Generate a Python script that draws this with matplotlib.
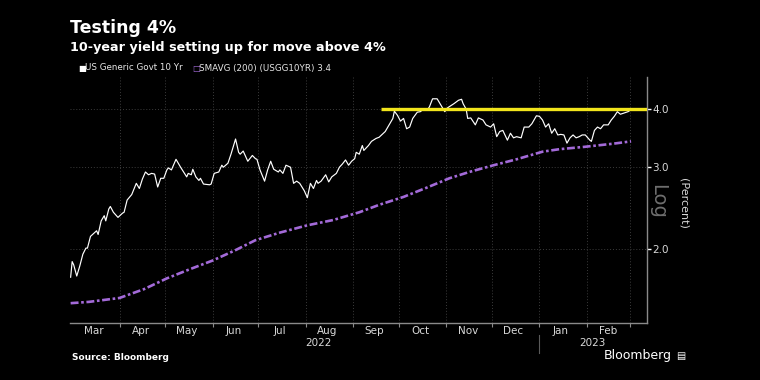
import matplotlib
matplotlib.use("Agg")
import matplotlib.pyplot as plt
import matplotlib.dates as mdates
import matplotlib.transforms as mtransforms
import pandas as pd

# ---- data ----
yield_dates = [
    "2022-02-28", "2022-03-01", "2022-03-02", "2022-03-04", "2022-03-06", "2022-03-08",
    "2022-03-10", "2022-03-11", "2022-03-13", "2022-03-15", "2022-03-17", "2022-03-18",
    "2022-03-20", "2022-03-22", "2022-03-23", "2022-03-25", "2022-03-26", "2022-03-28",
    "2022-03-31", "2022-04-03", "2022-04-04", "2022-04-06", "2022-04-09", "2022-04-12",
    "2022-04-14", "2022-04-16", "2022-04-18", "2022-04-20", "2022-04-22", "2022-04-24",
    "2022-04-26", "2022-04-28", "2022-04-30", "2022-05-02", "2022-05-03", "2022-05-05",
    "2022-05-08", "2022-05-11", "2022-05-15", "2022-05-16", "2022-05-18", "2022-05-19",
    "2022-05-21", "2022-05-23", "2022-05-24", "2022-05-26", "2022-05-30", "2022-05-31",
    "2022-06-02", "2022-06-05", "2022-06-07", "2022-06-08", "2022-06-11", "2022-06-13",
    "2022-06-16", "2022-06-18", "2022-06-19", "2022-06-21", "2022-06-24", "2022-06-27",
    "2022-06-29", "2022-06-30", "2022-07-02", "2022-07-05", "2022-07-07", "2022-07-09",
    "2022-07-11", "2022-07-14", "2022-07-15", "2022-07-17", "2022-07-19", "2022-07-22",
    "2022-07-24", "2022-07-26", "2022-07-28", "2022-07-31", "2022-08-02", "2022-08-04",
    "2022-08-06", "2022-08-08", "2022-08-09", "2022-08-11", "2022-08-14", "2022-08-16",
    "2022-08-18", "2022-08-21", "2022-08-23", "2022-08-25", "2022-08-27", "2022-08-29",
    "2022-08-31", "2022-09-02", "2022-09-03", "2022-09-05", "2022-09-07", "2022-09-08",
    "2022-09-11", "2022-09-13", "2022-09-16", "2022-09-18", "2022-09-20", "2022-09-22",
    "2022-09-25", "2022-09-27", "2022-09-28", "2022-09-30", "2022-10-02", "2022-10-04",
    "2022-10-06", "2022-10-08", "2022-10-10", "2022-10-13", "2022-10-15", "2022-10-17",
    "2022-10-20", "2022-10-21", "2022-10-23", "2022-10-26", "2022-10-29", "2022-10-31",
    "2022-11-02", "2022-11-06", "2022-11-09", "2022-11-11", "2022-11-12", "2022-11-14",
    "2022-11-15", "2022-11-17", "2022-11-20", "2022-11-22", "2022-11-25", "2022-11-27",
    "2022-11-30", "2022-12-02", "2022-12-04", "2022-12-06", "2022-12-08", "2022-12-11",
    "2022-12-13", "2022-12-15", "2022-12-17", "2022-12-20", "2022-12-22", "2022-12-25",
    "2022-12-27", "2022-12-30", "2023-01-01", "2023-01-03", "2023-01-05", "2023-01-07",
    "2023-01-09", "2023-01-11", "2023-01-13", "2023-01-15", "2023-01-17", "2023-01-19",
    "2023-01-21", "2023-01-23", "2023-01-25", "2023-01-27", "2023-01-29", "2023-01-31",
    "2023-02-03", "2023-02-04", "2023-02-06", "2023-02-08", "2023-02-10", "2023-02-12",
    "2023-02-15", "2023-02-17", "2023-02-19", "2023-02-21", "2023-02-23", "2023-02-25",
    "2023-02-28", "2023-03-02",
]
yield_values = [
    1.74, 1.88, 1.85, 1.75, 1.84, 1.95,
    2.01, 2.01, 2.13, 2.16, 2.19, 2.15,
    2.30, 2.36, 2.30, 2.44, 2.47, 2.40,
    2.34, 2.39, 2.40, 2.55, 2.62, 2.77,
    2.70, 2.83, 2.93, 2.89, 2.91, 2.90,
    2.72, 2.84, 2.84, 2.96, 2.99, 2.96,
    3.12, 3.00, 2.86, 2.91, 2.89, 2.97,
    2.86, 2.81, 2.84, 2.76, 2.75, 2.76,
    2.91, 2.93, 3.03, 3.00, 3.06, 3.20,
    3.45, 3.23, 3.20, 3.25, 3.09, 3.18,
    3.13, 3.12, 2.96, 2.80, 2.96, 3.09,
    2.97, 2.93, 2.96, 2.91, 3.03, 3.00,
    2.77, 2.80, 2.77, 2.67, 2.58, 2.77,
    2.70, 2.81, 2.77, 2.80, 2.89, 2.79,
    2.86, 2.91, 3.00, 3.05, 3.11, 3.03,
    3.09, 3.13, 3.23, 3.20, 3.34, 3.26,
    3.34, 3.41, 3.46, 3.48, 3.53, 3.58,
    3.72, 3.82, 3.96, 3.88, 3.77, 3.82,
    3.63, 3.66, 3.82, 3.94, 3.95, 4.00,
    4.00, 4.05, 4.21, 4.21, 4.05, 3.95,
    4.03, 4.11, 4.18, 4.20, 4.11, 4.00,
    3.82, 3.83, 3.70, 3.83, 3.79, 3.70,
    3.66, 3.72, 3.49, 3.58, 3.60, 3.43,
    3.55, 3.47, 3.49, 3.47, 3.66, 3.66,
    3.72, 3.87, 3.86, 3.79, 3.66, 3.72,
    3.55, 3.63, 3.52, 3.53, 3.52, 3.38,
    3.47, 3.52, 3.47, 3.49, 3.52, 3.52,
    3.43, 3.41, 3.60, 3.66, 3.63, 3.70,
    3.70, 3.79, 3.86, 3.95, 3.90, 3.92,
    3.95, 3.99,
]

sma_dates = [
    "2022-02-28", "2022-03-12", "2022-04-01", "2022-04-17", "2022-05-02", "2022-05-17",
    "2022-06-01", "2022-06-16", "2022-06-29", "2022-07-15", "2022-08-02", "2022-08-19",
    "2022-09-05", "2022-09-18", "2022-10-04", "2022-10-19", "2022-11-03", "2022-11-16",
    "2022-12-02", "2022-12-17", "2023-01-03", "2023-01-14", "2023-01-31", "2023-02-18",
    "2023-03-02",
]
sma_values = [
    1.53, 1.54, 1.57, 1.64, 1.73, 1.81,
    1.89, 1.99, 2.09, 2.17, 2.25, 2.31,
    2.40, 2.49, 2.59, 2.71, 2.84, 2.93,
    3.03, 3.12, 3.24, 3.28, 3.32, 3.37,
    3.41,
]

threshold_value = 4.0
threshold_start = "2022-09-19"

month_labels = ["Mar", "Apr", "May", "Jun", "Jul", "Aug", "Sep", "Oct", "Nov", "Dec", "Jan", "Feb"]
year_labels = ["2022", "2023"]
ytick_values = [2.0, 3.0, 4.0]
ytick_labels = ["2.0", "3.0", "4.0"]

title = "Testing 4%"
subtitle = "10-year yield setting up for move above 4%"
legend_labels = ["US Generic Govt 10 Yr", "SMAVG (200) (USGG10YR) 3.4"]

# ---- style ----
BG = "#000000"
FG = "#d9d9d9"
GRID = "#3c3c3c"
PURPLE = "#a36ad8"
YELLOW = "#f2e51c"
NARROW = ["Liberation Sans Narrow", "DejaVu Sans"]

plt.rcParams["font.family"] = ["DejaVu Sans"]

fig = plt.figure(figsize=(7.6, 3.8), dpi=100, facecolor=BG)
ax = fig.add_axes([70 / 760, 1 - 323 / 380, (647 - 70) / 760, (323 - 77) / 380])
ax.set_facecolor(BG)

yd = pd.to_datetime(yield_dates)
sd = pd.to_datetime(sma_dates)
xmin = pd.Timestamp("2022-02-27 14:00")
xmax = pd.Timestamp("2023-03-12 10:00")

ax.set_yscale("log")
ax.set_ylim(1.387, 4.69)
ax.set_xlim(xmin, xmax)

ax.plot(sd, sma_values, color=PURPLE, lw=1.9, linestyle=(0, (3.0, 1.0, 1.0, 1.0)),
        solid_capstyle="butt", zorder=3)
ax.plot(yd, yield_values, color="white", lw=0.85, zorder=4)
ax.hlines(threshold_value, pd.Timestamp(threshold_start), xmax, color=YELLOW, lw=2.4, zorder=5)

# grid
month_starts = pd.date_range("2022-04-01", "2023-03-01", freq="MS")
for d in month_starts:
    ax.axvline(d, color=GRID, lw=0.7, ls=(0, (1, 2)), zorder=1)
for v in ytick_values:
    ax.axhline(v, color=GRID, lw=0.7, ls=(0, (1, 2)), zorder=1)

# spines
for s in ["top", "left"]:
    ax.spines[s].set_visible(False)
for s in ["bottom", "right"]:
    ax.spines[s].set_color("#8a8a8a")
    ax.spines[s].set_linewidth(1.0)

# y axis on the right
ax.yaxis.tick_right()
ax.yaxis.set_major_locator(matplotlib.ticker.FixedLocator(ytick_values))
ax.yaxis.set_major_formatter(matplotlib.ticker.FixedFormatter(ytick_labels))
ax.yaxis.set_minor_locator(matplotlib.ticker.NullLocator())
ax.tick_params(axis="y", which="major", length=3, width=1, color="white",
               labelcolor=FG, labelsize=7.5, pad=1)

# x axis: ticks at month starts, labels at mid-month
ax.xaxis.set_major_locator(matplotlib.ticker.FixedLocator(mdates.date2num(month_starts)))
ax.xaxis.set_major_formatter(matplotlib.ticker.NullFormatter())
label_pos = pd.date_range("2022-03-01", "2023-02-01", freq="MS") + pd.Timedelta(days=14)
label_pos = label_pos.insert(0, pd.Timestamp("2022-03-14"))[1:]
ax.xaxis.set_minor_locator(matplotlib.ticker.FixedLocator(mdates.date2num(label_pos)))
ax.xaxis.set_minor_formatter(matplotlib.ticker.FixedFormatter(month_labels))
ax.tick_params(axis="x", which="major", length=3, color="#8a8a8a", width=0.8)
ax.tick_params(axis="x", which="minor", length=0, labelcolor=FG, labelsize=7.5, pad=2)
for lbl in ax.xaxis.get_minorticklabels():
    lbl.set_family(NARROW)

# year labels
trans = mtransforms.blended_transform_factory(ax.transData, fig.transFigure)
ax.text(pd.Timestamp("2022-08-09"), 1 - 343 / 380, year_labels[0], transform=trans,
        ha="center", va="center", color=FG, fontsize=7.5, family=NARROW)
ax.text(pd.Timestamp("2023-02-05"), 1 - 343 / 380, year_labels[1], transform=trans,
        ha="center", va="center", color=FG, fontsize=7.5, family=NARROW)
ax.plot([pd.Timestamp("2023-01-01")] * 2, [1 - 335 / 380, 1 - 353 / 380], transform=trans,
        color="#5a5a5a", lw=0.8, clip_on=False)

# right-side axis texts
fig.text(658 / 760, 1 - 201 / 380, "Log", rotation=270, color="#6e6e6e", fontsize=14,
         ha="center", va="center")
fig.text(683 / 760, 1 - 203 / 380, "(Percent)", rotation=270, color=FG, fontsize=8,
         ha="center", va="center")

# titles
fig.text(70 / 760, 1 - 28 / 380, title, color="white", fontsize=12.5, fontweight="bold",
         ha="left", va="center")
fig.text(70 / 760, 1 - 47 / 380, subtitle, color="white", fontsize=9.2, fontweight="bold",
         ha="left", va="center")

# legend
ly = 1 - 68 / 380
fig.text(78 / 760, ly, "\u25a0", color="white", fontsize=6, ha="left", va="center")
fig.text(85 / 760, ly, legend_labels[0], color="#e6e6e6", fontsize=6.3, ha="left", va="center",
         family=NARROW)
fig.text(192 / 760, ly, "\u25a1", color=PURPLE, fontsize=6, ha="left", va="center")
fig.text(199 / 760, ly, legend_labels[1], color="#e6e6e6", fontsize=6.3, ha="left", va="center",
         family=NARROW)

# footer
fig.text(72 / 760, 1 - 357 / 380, "Source: Bloomberg", color="white", fontsize=6.5,
         fontweight="bold", ha="left", va="center")
fig.text(672 / 760, 1 - 356 / 380, "Bloomberg", color="white", fontsize=9,
         ha="right", va="center")
fig.text(676 / 760, 1 - 356 / 380, "\u25a4", color="white", fontsize=7,
         ha="left", va="center")

fig.savefig("out.png", dpi=100, facecolor=BG)
